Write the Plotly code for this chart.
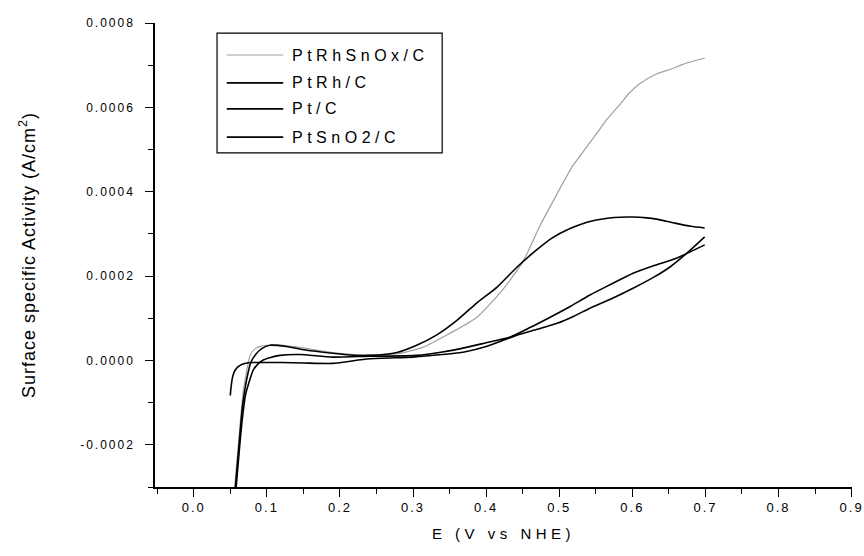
import plotly.graph_objects as go

# ---- data ----
E_ptrhsnox = [0.056, 0.059, 0.062, 0.065, 0.068, 0.072, 0.077, 0.084, 0.092, 0.100, 0.115, 0.14, 0.17, 0.20,
              0.24, 0.28, 0.313, 0.35, 0.387, 0.419, 0.45, 0.473, 0.497, 0.518, 0.537, 0.552, 0.565, 0.583,
              0.596, 0.610, 0.633, 0.655, 0.669, 0.699]
J_ptrhsnox = [-0.00030, -0.00024, -0.00018, -0.00012, -0.00007, -0.00003, 0.000012, 0.000028, 0.000034,
              0.000036, 0.000037, 0.000032, 0.000024, 0.000017, 0.000013, 0.000016, 0.000031, 0.000064,
              0.000102, 0.000160, 0.000233, 0.000317, 0.000395, 0.000460, 0.000505, 0.000540, 0.000571,
              0.000607, 0.000634, 0.000656, 0.000679, 0.000692, 0.000702, 0.000717]

E_ptrh = [0.057, 0.060, 0.063, 0.066, 0.069, 0.073, 0.078, 0.085, 0.093, 0.104, 0.127, 0.155, 0.19, 0.213,
          0.241, 0.278, 0.305, 0.332, 0.36, 0.387, 0.415, 0.442, 0.469, 0.49, 0.514, 0.535, 0.555, 0.575,
          0.60, 0.62, 0.633, 0.657, 0.68, 0.699]
J_ptrh = [-0.00030, -0.00024, -0.00018, -0.00012, -0.00008, -0.00004, -0.000005, 0.000015, 0.000028,
          0.000036, 0.000033, 0.000024, 0.000017, 0.000013, 0.000012, 0.000019, 0.000036, 0.000060,
          0.000095, 0.000136, 0.000174, 0.000221, 0.000262, 0.000290, 0.000312, 0.000326, 0.000334,
          0.000339, 0.000340, 0.000338, 0.000335, 0.000326, 0.000318, 0.000314]

E_pt = [0.058, 0.061, 0.064, 0.067, 0.071, 0.076, 0.081, 0.088, 0.094, 0.105, 0.118, 0.145, 0.19, 0.24,
        0.305, 0.34, 0.373, 0.40, 0.432, 0.46, 0.487, 0.515, 0.542, 0.57, 0.601, 0.63, 0.661, 0.699]
J_pt = [-0.00030, -0.00024, -0.00018, -0.00013, -0.00008, -0.00005, -0.000024, -0.000008, 0.0, 0.000007,
        0.000012, 0.000014, 0.000008, 0.000010, 0.000012, 0.000020, 0.000031, 0.000042, 0.000055, 0.000078,
        0.000102, 0.000128, 0.000155, 0.000180, 0.000207, 0.000225, 0.000243, 0.000274]

E_ptsno2 = [0.050, 0.051, 0.053, 0.056, 0.060, 0.065, 0.070, 0.081, 0.10, 0.12, 0.15, 0.19, 0.24, 0.30,
            0.34, 0.37, 0.40, 0.442, 0.47, 0.497, 0.52, 0.542, 0.57, 0.601, 0.63, 0.651, 0.675, 0.699]
J_ptsno2 = [-0.000083, -0.000064, -0.000040, -0.000025, -0.000016, -0.000010, -0.000007, -0.000005,
            -0.000005, -0.000005, -0.000006, -0.000007, 0.000004, 0.000008, 0.000014, 0.000020, 0.000033,
            0.000060, 0.000074, 0.000088, 0.000105, 0.000124, 0.000145, 0.000171, 0.000198, 0.000221,
            0.000255, 0.000293]

series_names = ["PtRhSnOx/C", "PtRh/C", "Pt/C", "PtSnO2/C"]
series_x = [E_ptrhsnox, E_ptrh, E_pt, E_ptsno2]
series_y = [J_ptrhsnox, J_ptrh, J_pt, J_ptsno2]
series_colors = ["#a0a0a0", "#000000", "#000000", "#000000"]
series_widths = [1.2, 1.6, 1.6, 1.6]

x_ticks = [0.0, 0.1, 0.2, 0.3, 0.4, 0.5, 0.6, 0.7, 0.8, 0.9]
y_ticks = [-0.0002, 0.0, 0.0002, 0.0004, 0.0006, 0.0008]

FONT = "Liberation Sans, Arial, sans-serif"


def spaced(s, px):
    return f'<span style="letter-spacing:{px}px">{s}</span>'


fig = go.Figure()
for name, x, y, c, w in zip(series_names, series_x, series_y, series_colors, series_widths):
    fig.add_trace(go.Scatter(x=x, y=y, mode="lines", name=name, showlegend=False,
                             line=dict(color=c, width=w, shape="spline", smoothing=0.6)))

# custom legend box (matches the boxed legend of the reference)
lx0, lx1, ly0, ly1 = 0.089, 0.412, 0.720, 0.978
fig.add_shape(type="rect", xref="paper", yref="paper", x0=lx0, x1=lx1, y0=ly0, y1=ly1,
              line=dict(color="black", width=1.2), fillcolor="white", layer="above")
entry_y = [0.931, 0.871, 0.815, 0.754]
for name, c, w, yy in zip(series_names, series_colors, series_widths, entry_y):
    fig.add_shape(type="line", xref="paper", yref="paper", x0=0.103, x1=0.184, y0=yy, y1=yy,
                  line=dict(color=c, width=w), layer="above")
    fig.add_annotation(xref="paper", yref="paper", x=0.193, y=yy, xanchor="left", yanchor="middle",
                       text=spaced(name, 4.5), showarrow=False,
                       font=dict(family=FONT, size=16, color="black"))

fig.update_layout(
    width=864, height=556,
    margin=dict(l=155, r=12, t=23, b=69),
    paper_bgcolor="white", plot_bgcolor="white",
    font=dict(family=FONT, color="black"),
)
fig.update_xaxes(
    range=[-0.053, 0.9005], showgrid=False, zeroline=False,
    showline=True, linecolor="black", linewidth=1.5,
    ticks="outside", ticklen=8, tickwidth=1.2, tickcolor="black",
    tickvals=x_ticks, ticktext=[spaced(f"{v:.1f}", 2) for v in x_ticks],
    tickfont=dict(size=13, family=FONT), ticklabeloverflow="allow",
    minor=dict(ticks="outside", ticklen=5, tickwidth=1.2, tickcolor="black", dtick=0.05, tick0=0),
    title=dict(text=spaced("E (V vs NHE)", 4.5), font=dict(size=15, family=FONT), standoff=14),
    automargin=False,
)
fig.update_yaxes(
    range=[-0.0003, 0.0008], showgrid=False, zeroline=False,
    showline=True, linecolor="black", linewidth=1.5,
    ticks="outside", ticklen=8, tickwidth=1.2, tickcolor="black",
    tickvals=y_ticks, ticktext=[spaced(f"{v:.4f}", 2) for v in y_ticks],
    tickfont=dict(size=12, family=FONT), ticklabeloverflow="allow",
    ticklabelstandoff=8,
    minor=dict(ticks="outside", ticklen=5, tickwidth=1.2, tickcolor="black", dtick=0.0001, tick0=0),
    title=dict(text=spaced("Surface specific Activity (A/cm<sup>2</sup>)", 1),
               font=dict(size=18, family=FONT), standoff=40),
    automargin=False,
)

fig.write_html("out.html")
